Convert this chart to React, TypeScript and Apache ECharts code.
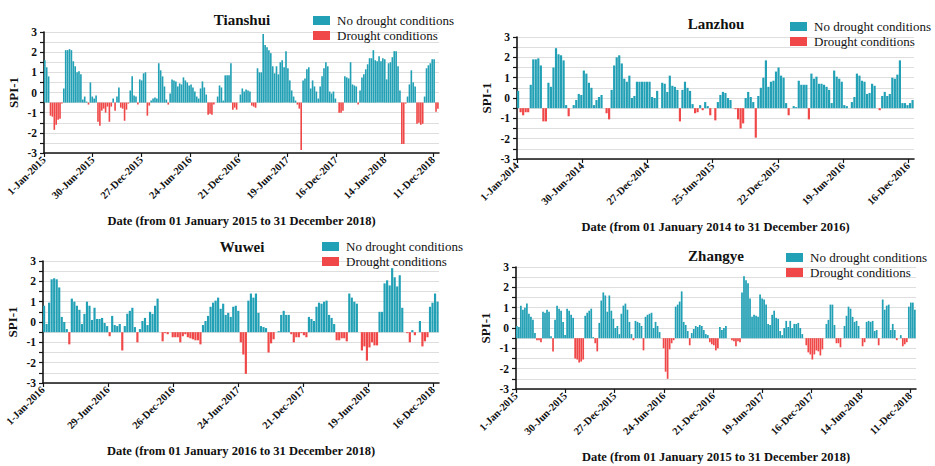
import React, { useEffect, useRef } from 'react';
import * as echarts from 'echarts';

const FONT = '"Liberation Serif", "Times New Roman", serif';
const TEAL = '#22a0b5';
const RED = '#f04848';
const BASELINE = -0.5;
const TICK_DAYS = 180;
const LEGEND_NAMES = ['No drought conditions', 'Drought conditions'];

const TICKS_2015_2018 = ['1-Jan-2015', '30-Jun-2015', '27-Dec-2015', '24-Jun-2016', '21-Dec-2016', '19-Jun-2017', '16-Dec-2017', '14-Jun-2018', '11-Dec-2018'];
const TICKS_2014_2016 = ['1-Jan-2014', '30-Jun-2014', '27-Dec-2014', '25-Jun-2015', '22-Dec-2015', '19-Jun-2016', '16-Dec-2016'];
const TICKS_2016_2018 = ['1-Jan-2016', '29-Jun-2016', '26-Dec-2016', '24-Jun-2017', '21-Dec-2017', '19-Jun-2018', '16-Dec-2018'];

const TIANSHUI_SPI = [
  1.6, 1.25, 0.8, -1.15, -1.2, -1.85, -1.6, -1.35, -1.3, -0.55,
  0.2, 2.1, 2.1, 2.15, 2.1, 1.55, 1.3, 1.0, 1.05, 0.9,
  -0.35, -0.2, -0.45, -0.6, 0.5, -0.2, -0.3, -0.15, -1.45, -1.65,
  -0.9, -0.8, -1.0, -0.7, -1.45, -0.7, -0.3, -0.9, -0.2, 0.25,
  -0.75, -0.8, -1.4, -0.85, -0.55, 0.1, 0.8, -0.15, -0.2, -0.6,
  0.65, 0.6, 0.95, 1.0, -1.15, -0.65, -0.4, -0.3, -0.25, -0.3,
  1.45, 1.1, 0.8, 0.3, -0.35, -0.6, -0.05, 0.65, 0.6, 0.55,
  0.3, 0.45, 0.4, 0.75, 0.6, 0.5, 0.35, 0.4, 0.25, 0.05,
  -0.2, -0.3, 0.2, 0.55, 0.25, -0.1, -1.1, -1.05, -1.1, -0.6,
  -0.5, -0.2, 0.35, 0.25, -0.4, 0.85, 0.85, 0.85, 1.45, -0.85,
  -0.75, -0.85, -0.5, -0.1, 0.2, 0.05, 0.15, 0.1, 0.05, -0.65,
  -0.7, -0.75, 1.2, 1.0, 1.0, 2.9, 2.35, 2.25, 2.1, 1.95,
  1.3, 0.95, 1.3, 0.9, 1.5, 1.6, 1.25, 2.05, 1.2, 0.6,
  0.1, -0.2, -0.4, -0.6, -0.8, -2.85, 0.6, 0.7, 1.15, 1.25,
  0.2, 0.6, 0.3, 0.05, -0.3, 0.3, 0.8, 1.2, 1.5, 1.3,
  0.05, -0.05, 0.05, -0.3, -0.5, -1.0, -1.0, -0.9, 0.8, 0.75,
  0.7, 1.5, 0.4, 0.35, 0.3, -0.6, 0.1, 0.75, 0.9, 1.15,
  1.4, 1.7, 1.7, 2.1, 1.6, 1.55, 1.8, 1.55, 1.7, 1.65,
  0.65, 1.45, 1.5, 1.75, 2.05, 2.05, 1.3, 0.1, -2.55, -2.55,
  -0.55, -0.2, 0.4, 1.1, 0.5, 0.3, -1.55, -1.5, -1.6, -1.55,
  -0.2, 1.2, 1.35, 1.45, 1.65, 1.65, -0.95, -0.8,
];

const LANZHOU_SPI = [
  0.35, -0.7, -0.85, -0.7, -0.7, 0.65, 1.9, 1.9, 1.95, 1.6,
  -1.15, -1.15, 0.75, 0.55, 1.5, 2.45, 2.15, 2.1, 1.85, -0.35,
  -0.9, -0.5, -0.35, -0.1, 0.2, 0.15, 1.35, 1.2, 0.75, 0.5,
  -0.35, -0.1, 0.05, 0.15, -0.5, -0.75, -1.05, 0.4, 1.6, 2.0,
  2.1, 1.7, 0.95, 0.8, 1.1, 0.0, 0.1, 0.8, 0.8, 0.8,
  0.8, 0.8, 0.8, 0.05, 0.0, 0.35, -0.5, 0.75, 0.7, 0.3,
  1.1, 0.6, 0.55, 0.4, -1.15, 0.4, 0.8, 0.5, 0.35, -0.3,
  -0.75, -0.7, -0.35, -0.6, -0.2, -0.4, -0.85, -0.5, -1.1, -0.2,
  0.15, 0.3, 0.25, 0.0, -0.1, -0.5, -0.55, -1.05, -1.5, -1.25,
  0.0, 0.3, 0.05, -0.2, -1.95, 0.1, 0.5, 1.0, 1.85, 0.55,
  0.8, 0.85, 1.3, 1.5, 1.1, 1.0, -0.25, -0.85, -0.5, -0.4,
  -0.45, 0.85, 0.65, 0.65, 0.65, -1.05, 1.2, 0.95, 1.05, 0.7,
  0.7, 0.65, 0.55, 0.4, -0.25, 1.35, 1.05, 0.95, 0.8, -0.35,
  -0.4, -0.5, -0.2, 0.05, 1.2, 1.1, 0.85, 0.8, 0.2, 0.25,
  0.7, 0.6, -0.5, -0.6, 0.1, 0.3, 0.1, 0.2, 1.0, 0.95,
  1.15, 1.85, -0.25, -0.25, -0.35, -0.25, -0.1,
];

const WUWEI_SPI = [
  0.8, -0.1, 0.95, 2.1, 2.15, 2.1, 1.7, 0.25, 0.0, -0.35,
  -1.1, 1.15, 1.0, 0.8, 0.6, -0.1, 0.4, 1.0, 0.8, 0.1,
  0.7, 0.15, 0.15, 0.2, -0.05, -0.2, -0.7, 0.3, -0.15, -0.2,
  -0.1, -1.4, -0.2, 0.4, 0.55, 0.7, -0.25, -1.0, -0.35, 0.05,
  0.2, -0.15, 0.5, 0.4, 0.8, 1.15, -0.5, -0.95, -0.55, -0.6,
  -0.5, -0.75, -0.75, -0.75, -1.0, -0.7, -0.6, -0.75, -0.8, -0.85,
  -0.9, -0.9, -1.1, -0.15, 0.05, 0.3, 0.75, 0.95, 1.05, 1.2,
  0.65, 0.9, 0.35, 0.45, 0.25, 0.75, 0.8, 0.55,
  -1.0, -1.6, -2.55, 1.05, 1.4, 1.2, 1.4, 0.45, -0.2, -0.25,
  -0.3, -1.5, -1.05, -0.85, -0.5, -0.45, 0.35, 0.55, 0.35, 0.35,
  -0.6, -1.0, -0.75, -0.75, -0.55, -0.65, -0.75, 0.25, 0.15, 0.05,
  0.75, 0.95, 0.9, 1.0, 1.05, 0.35, 0.2, -0.1, -0.9, -0.9,
  -0.8, -0.8, -0.95, 1.4, 1.2, 1.0, 0.9, -0.5, -1.4, -1.2,
  -1.9, -1.25, -1.0, -1.15, -1.15, 0.5, 0.5, 1.9, 2.05, 1.8,
  2.65, 2.2, 1.75, 2.3, 0.7, -0.5, -0.55, -1.0, -0.4, -0.65,
  -0.5, 0.05, -1.2, -0.95, -0.75, 0.75, 0.95, 1.4, 1.0,
];

const ZHANGYE_SPI = [
  0.1, 0.05, 1.1, 0.9, 1.0, 1.2, 0.7, 0.55, 0.4, -0.25,
  -0.6, -0.6, -0.7, 0.8, 0.75, 0.9, 0.8, -0.4, -1.15, 0.4,
  1.1, 0.95, 0.85, 0.3, -0.35, 0.95, 0.85, 0.65, 0.5, -1.5,
  -1.55, -1.7, -1.65, -1.55, 0.6, 0.75, 0.85, 0.95, -0.45, -0.75,
  -1.15, 0.25, 1.35, 1.75, 1.6, 0.8, 1.6, 0.85, 0.45, 0.0,
  0.1, -0.3, 0.7, 1.1, 1.2, 0.9, 0.3, -0.3, -0.6, 0.35,
  0.3, 0.25, 0.1, -1.1, 0.55, 0.65, 0.7, 0.75, 0.0, 0.3,
  0.1, -0.2, -0.5, -1.0, -2.15, -2.5, -1.05, -0.75, -0.6, 1.05,
  1.15, 1.3, 1.8, 0.3, 0.15, -0.15, -0.85, -0.25, -0.05, 0.1,
  0.05, 0.15, 0.1, -0.1, -0.3, -0.35, -0.7, -0.8, -0.85,
  -1.1, -1.0, 0.05, -0.1, 0.0, 0.1, -0.5, -0.5, -0.6, -0.65,
  -0.9, -0.65, -0.7, 1.75, 2.55, 2.35, 2.2, 1.45, 0.55, 0.65,
  0.6, 0.55, 1.65, 1.45, 1.4, 1.15, 0.2, 0.15, 0.65, 0.85,
  0.5, 0.45, -0.15, -0.35, 0.0, 0.35, 0.05, 0.35, 0.0, 0.2,
  0.2, 0.25, 0.0, -0.3, -0.5, -0.85, -1.2, -1.3, -1.55, -1.3,
  -1.1, -1.15, -1.35, -1.05, -0.5, 0.2, 0.4, 1.15, 1.15, 0.15,
  -0.75, -0.75, -0.95, -0.5, 0.1, 0.6, 1.05, 0.95, 0.55, 0.3,
  0.35, 0.1, -0.5, -0.9, -0.7, 0.3, 0.35, 0.3, 0.35, -0.15,
  -0.1, -0.85, -0.5, 1.4, 0.9, 1.1, 1.15, -0.1, 0.2, -0.1,
  -0.6, -0.5, -0.35, -0.9, -0.8, -0.7, 1.05, 1.25, 1.25, 0.9,
];

const PANELS = [
  {
    name: 'Tianshui', values: TIANSHUI_SPI, ticks: TICKS_2015_2018, days: 1461,
    xName: 'Date (from 01 January 2015 to 31 December 2018)',
    grid: { left: 44, top: 32, width: 395, height: 121 }, title: [242, 20], legend: [313, 14],
  },
  {
    name: 'Lanzhou', values: LANZHOU_SPI, ticks: TICKS_2014_2016, days: 1096,
    xName: 'Date (from 01 January 2014 to 31 December 2016)',
    grid: { left: 517, top: 37, width: 397, height: 122 }, title: [716, 24], legend: [790, 20],
  },
  {
    name: 'Wuwei', values: WUWEI_SPI, ticks: TICKS_2016_2018, days: 1096,
    xName: 'Date (from 01 January 2016 to 31 December 2018)',
    grid: { left: 43, top: 261, width: 396, height: 122 }, title: [242, 247], legend: [322, 240],
  },
  {
    name: 'Zhangye', values: ZHANGYE_SPI, ticks: TICKS_2015_2018, days: 1461,
    xName: 'Date (from 01 January 2015 to 31 December 2018)',
    grid: { left: 516, top: 267, width: 400, height: 122 }, title: [716, 256], legend: [786, 251],
  },
];

function buildSeries(p: any, idx: number, wet: boolean) {
  const step = p.days / p.values.length;
  const data = p.values
    .map((v: number, i: number) => [(i + 0.5) * step, v])
    .filter((d: number[]) => (wet ? d[1] >= BASELINE : d[1] < BASELINE));
  const color = wet ? TEAL : RED;
  return {
    type: 'custom',
    name: wet ? LEGEND_NAMES[0] : LEGEND_NAMES[1],
    xAxisIndex: idx,
    yAxisIndex: idx,
    encode: { x: 0, y: 1 },
    itemStyle: { color },
    data,
    renderItem: (params: any, api: any) => {
      const x = api.value(0);
      const v = api.value(1);
      const a = api.coord([x - step / 2, BASELINE]);
      const b = api.coord([x + step / 2, v]);
      const full = b[0] - a[0];
      return {
        type: 'rect',
        shape: { x: a[0], y: Math.min(a[1], b[1]), width: full * 0.86, height: Math.abs(b[1] - a[1]) },
        style: { fill: color },
      };
    },
  };
}

export default function App() {
  const ref = useRef<HTMLDivElement>(null);
  useEffect(() => {
    if (!ref.current) return;
    const chart = echarts.init(ref.current, null, { renderer: 'svg' });
    const axisColor = '#151515';
    const option: any = {
      animation: false,
      backgroundColor: '#ffffff',
      grid: PANELS.map((p) => ({ ...p.grid, containLabel: false })),
      xAxis: PANELS.map((p, i) => {
        const tickVals = p.ticks.map((_: string, k: number) => k * TICK_DAYS);
        return {
          type: 'value', gridIndex: i, min: 0, max: p.days, interval: TICK_DAYS,
          axisLine: { show: true, onZero: false, lineStyle: { color: axisColor, width: 1.6 } },
          axisTick: { show: true, length: 4, customValues: tickVals, lineStyle: { color: axisColor, width: 1.2 } },
          axisLabel: {
            rotate: 45, margin: 5, fontFamily: FONT, fontWeight: 'bold', fontSize: 10.5, color: '#111',
            customValues: tickVals,
            formatter: (v: number) => p.ticks[Math.round(v / TICK_DAYS)] ?? '',
          },
          splitLine: { show: false },
          name: p.xName, nameLocation: 'middle', nameGap: 61,
          nameTextStyle: { fontFamily: FONT, fontWeight: 'bold', fontSize: 12.5, color: '#111' },
        };
      }),
      yAxis: PANELS.map((p, i) => ({
        type: 'value', gridIndex: i, min: -3, max: 3, interval: 1,
        axisLine: { show: true, onZero: false, lineStyle: { color: axisColor, width: 1.6 } },
        axisTick: { show: true, length: 4, lineStyle: { color: axisColor, width: 1.2 } },
        minorTick: { show: true, splitNumber: 2, length: 4, lineStyle: { color: axisColor, width: 1.2 } },
        splitLine: { show: true, lineStyle: { color: '#dedede', width: 1 } },
        minorSplitLine: { show: true, lineStyle: { color: '#dedede', width: 1 } },
        axisLabel: { fontFamily: FONT, fontWeight: 'bold', fontSize: 11.5, color: '#111', margin: 7 },
        name: 'SPI-1', nameLocation: 'middle', nameGap: 24, nameRotate: 90,
        nameTextStyle: { fontFamily: FONT, fontWeight: 'bold', fontSize: 13, color: '#111' },
      })),
      legend: PANELS.map((p) => ({
        left: p.legend[0], top: p.legend[1], orient: 'vertical', padding: 0,
        itemWidth: 17, itemHeight: 9, itemGap: 2, selectedMode: false, icon: 'rect',
        data: LEGEND_NAMES,
        textStyle: { fontFamily: FONT, fontSize: 13, color: '#111', lineHeight: 13, padding: [0, 0, 0, 2] },
      })),
      graphic: PANELS.map((p) => ({
        type: 'text', x: p.title[0], y: p.title[1],
        style: {
          text: p.name, font: `bold 15px ${FONT}`, fill: '#111',
          align: 'center', verticalAlign: 'middle', textAlign: 'center', textVerticalAlign: 'middle',
        },
      })),
      series: PANELS.flatMap((p, i) => [buildSeries(p, i, true), buildSeries(p, i, false)]),
    };
    chart.setOption(option);
    return () => chart.dispose();
  }, []);
  return (
    <div
      ref={ref}
      style={{ position: 'absolute', left: 0, top: 0, width: 935, height: 466, background: '#fff' }}
    />
  );
}
